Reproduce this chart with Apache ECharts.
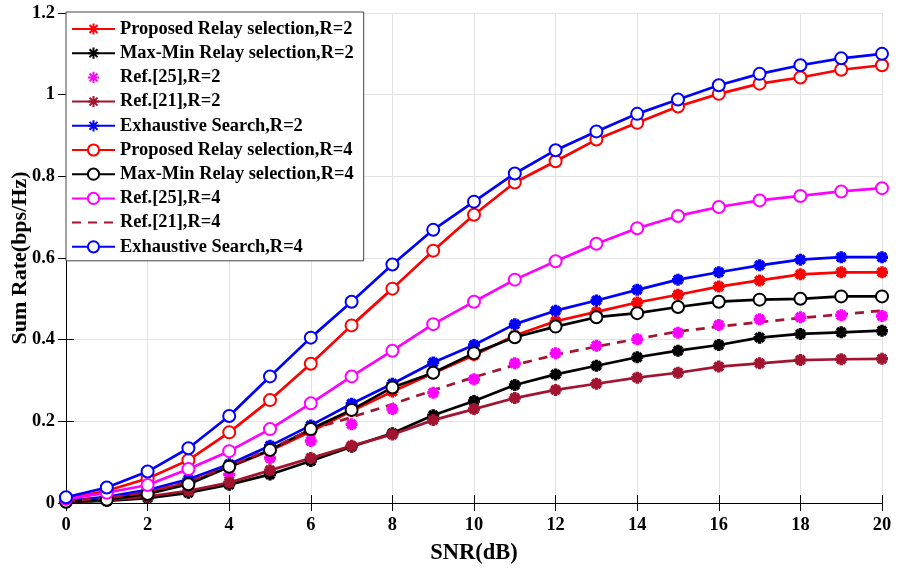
<!DOCTYPE html>
<html>
<head>
<meta charset="utf-8">
<script src="https://cdn.jsdelivr.net/npm/echarts@6/dist/echarts.min.js"></script>
<style>
  html, body { margin: 0; padding: 0; background: #fff; }
  #chart { width: 899px; height: 569px; }
</style>
</head>
<body>
<div id="chart"></div>
<script>
var snr = [0, 1, 2, 3, 4, 5, 6, 7, 8, 9, 10, 11, 12, 13, 14, 15, 16, 17, 18, 19, 20];

var proposedR2 = [0.005, 0.012, 0.027, 0.050, 0.088, 0.128, 0.175, 0.225, 0.273, 0.318, 0.362, 0.410, 0.445, 0.468, 0.491, 0.510, 0.530, 0.545, 0.560, 0.565, 0.565];
var maxMinR2 = [0.002, 0.005, 0.012, 0.025, 0.045, 0.070, 0.103, 0.138, 0.171, 0.215, 0.250, 0.289, 0.315, 0.336, 0.357, 0.373, 0.387, 0.405, 0.414, 0.418, 0.422];
var ref25R2 = [0.005, 0.010, 0.020, 0.040, 0.070, 0.110, 0.152, 0.193, 0.230, 0.270, 0.303, 0.342, 0.367, 0.385, 0.401, 0.417, 0.436, 0.450, 0.455, 0.460, 0.458];
var ref21R2 = [0.003, 0.007, 0.016, 0.030, 0.050, 0.080, 0.110, 0.140, 0.168, 0.203, 0.230, 0.257, 0.277, 0.292, 0.307, 0.319, 0.334, 0.342, 0.350, 0.352, 0.353];
var exhaustiveR2 = [0.005, 0.015, 0.032, 0.058, 0.095, 0.140, 0.190, 0.243, 0.292, 0.344, 0.387, 0.438, 0.471, 0.496, 0.522, 0.547, 0.565, 0.582, 0.596, 0.602, 0.602];
var proposedR4 = [0.010, 0.030, 0.060, 0.105, 0.173, 0.252, 0.341, 0.435, 0.525, 0.618, 0.706, 0.785, 0.837, 0.890, 0.931, 0.971, 1.002, 1.027, 1.042, 1.061, 1.072];
var maxMinR4 = [0.003, 0.008, 0.022, 0.046, 0.089, 0.130, 0.181, 0.228, 0.283, 0.319, 0.367, 0.406, 0.432, 0.455, 0.465, 0.480, 0.493, 0.498, 0.500, 0.506, 0.506];
var ref25R4 = [0.010, 0.025, 0.044, 0.083, 0.127, 0.181, 0.244, 0.310, 0.373, 0.438, 0.493, 0.547, 0.592, 0.635, 0.673, 0.703, 0.725, 0.741, 0.752, 0.763, 0.771];
var ref21R4 = [0.005, 0.012, 0.026, 0.052, 0.090, 0.132, 0.180, 0.210, 0.242, 0.276, 0.308, 0.338, 0.363, 0.383, 0.402, 0.420, 0.432, 0.443, 0.453, 0.462, 0.471];
var exhaustiveR4 = [0.014, 0.038, 0.077, 0.134, 0.213, 0.310, 0.405, 0.493, 0.584, 0.669, 0.738, 0.807, 0.864, 0.910, 0.953, 0.988, 1.023, 1.051, 1.072, 1.089, 1.100];

var serif = 'Liberation Serif';
// MATLAB style '*' marker
var star = 'path://M0,-10L0,10M-10,0L10,0M-7.07,-7.07L7.07,7.07M-7.07,7.07L7.07,-7.07';

function pairs(ys) {
    return snr.map(function (x, i) { return [x, ys[i]]; });
}

function starSeries(name, ys, color, lineWidth) {
    return {
        name: name,
        type: 'line',
        data: pairs(ys),
        symbol: star,
        symbolSize: 12,
        itemStyle: { color: color, borderColor: color, borderWidth: 3.5 },
        lineStyle: { color: color, width: lineWidth },
        emphasis: { disabled: true },
        animation: false
    };
}

function circleSeries(name, ys, color) {
    return {
        name: name,
        type: 'line',
        data: pairs(ys),
        symbol: 'emptyCircle',
        symbolSize: 12,
        itemStyle: { color: color, borderColor: color, borderWidth: 2.7 },
        lineStyle: { color: color, width: 2.7 },
        emphasis: { disabled: true },
        animation: false
    };
}

var series = [
    starSeries('Proposed Relay selection,R=2', proposedR2, '#ff0000', 2.7),
    starSeries('Max-Min Relay selection,R=2', maxMinR2, '#000000', 2.7),
    starSeries('Ref.[25],R=2', ref25R2, '#ff00ff', 0),
    starSeries('Ref.[21],R=2', ref21R2, '#a2142f', 2.7),
    starSeries('Exhaustive Search,R=2', exhaustiveR2, '#0000ff', 2.7),
    circleSeries('Proposed Relay selection,R=4', proposedR4, '#ff0000'),
    circleSeries('Max-Min Relay selection,R=4', maxMinR4, '#000000'),
    circleSeries('Ref.[25],R=4', ref25R4, '#ff00ff'),
    {
        name: 'Ref.[21],R=4',
        type: 'line',
        data: pairs(ref21R4),
        symbol: 'none',
        lineStyle: { color: '#a2142f', width: 2.7, type: [9, 7] },
        itemStyle: { color: '#a2142f' },
        emphasis: { disabled: true },
        animation: false
    },
    circleSeries('Exhaustive Search,R=4', exhaustiveR4, '#0000ff')
];

var legendData = series.map(function (s) {
    if (s.symbol === 'none') {
        return { name: s.name, itemStyle: { opacity: 0 } };
    }
    return { name: s.name };
});

var labelFont = { color: '#000', fontFamily: serif, fontWeight: 'bold', fontSize: 18.4 };

var chart = echarts.init(document.getElementById('chart'));
chart.setOption({
    backgroundColor: '#fff',
    animation: false,
    grid: { left: 66, right: 17, top: 13, bottom: 66, outerBoundsMode: 'none', containLabel: false },
    legend: {
        orient: 'vertical',
        left: 66,
        top: 12,
        itemWidth: 43,
        itemHeight: 14,
        itemGap: 6.2,
        padding: [8, 10, 5, 5],
        backgroundColor: '#fff',
        borderColor: '#444',
        borderWidth: 1,
        borderRadius: 0,
        selectedMode: false,
        textStyle: { color: '#000', fontFamily: serif, fontWeight: 'bold', fontSize: 18.4 },
        data: legendData
    },
    xAxis: [{
        type: 'value',
        min: 0,
        max: 20,
        interval: 2,
        name: 'SNR(dB)',
        nameLocation: 'middle',
        nameGap: 39,
        nameMoveOverlap: false,
        nameTextStyle: { color: '#000', fontFamily: serif, fontWeight: 'bold', fontSize: 22.5 },
        axisLine: { lineStyle: { color: '#000', width: 1 } },
        axisTick: { inside: true, length: 8, lineStyle: { color: '#000' } },
        axisLabel: Object.assign({ margin: 13 }, labelFont),
        splitLine: { show: true, lineStyle: { color: '#e3e3e3', width: 1 } }
    }, {
        type: 'value',
        position: 'top',
        min: 0,
        max: 20,
        interval: 2,
        axisLine: { lineStyle: { color: '#000', width: 1 } },
        axisTick: { inside: true, length: 8, lineStyle: { color: '#000' } },
        axisLabel: { show: false },
        splitLine: { show: false }
    }],
    yAxis: [{
        type: 'value',
        min: 0,
        max: 1.2,
        interval: 0.2,
        name: 'Sum Rate(bps/Hz)',
        nameLocation: 'middle',
        nameGap: 35,
        nameMoveOverlap: false,
        nameTextStyle: { color: '#000', fontFamily: serif, fontWeight: 'bold', fontSize: 22 },
        axisLine: { lineStyle: { color: '#000', width: 1 } },
        axisTick: { inside: true, length: 8, lineStyle: { color: '#000' } },
        axisLabel: Object.assign({ margin: 11 }, labelFont),
        splitLine: { show: true, lineStyle: { color: '#e3e3e3', width: 1 } }
    }, {
        type: 'value',
        position: 'right',
        min: 0,
        max: 1.2,
        interval: 0.2,
        axisLine: { lineStyle: { color: '#000', width: 1 } },
        axisTick: { inside: true, length: 8, lineStyle: { color: '#000' } },
        axisLabel: { show: false },
        splitLine: { show: false }
    }],
    series: series
});
</script>
</body>
</html>
